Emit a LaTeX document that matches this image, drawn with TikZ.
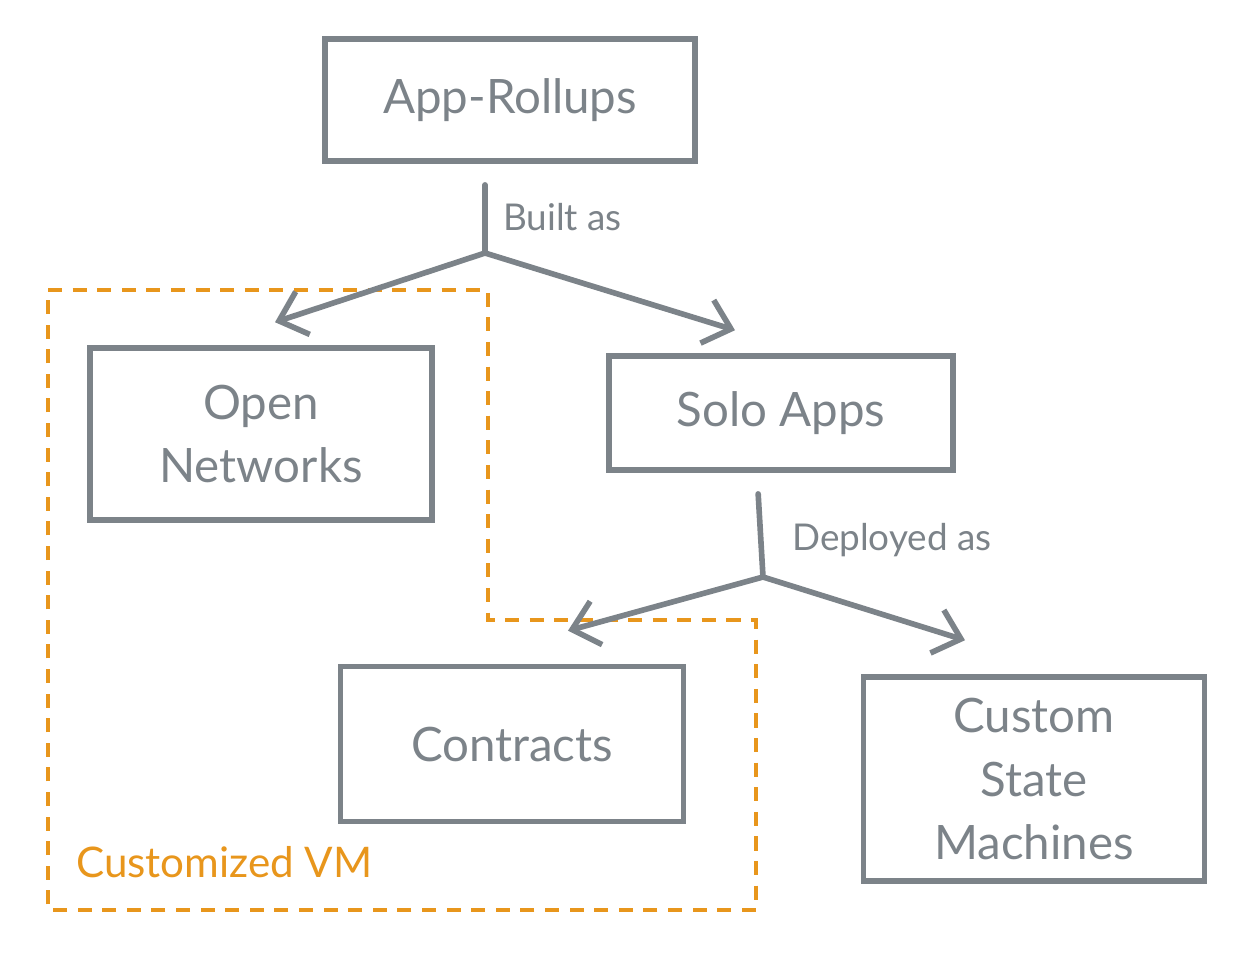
\documentclass[tikz,border=0pt]{standalone}
\usepackage{fontspec}
\setmainfont{Lato}
\usetikzlibrary{arrows.meta}
\definecolor{boxgray}{HTML}{7C8389}
\definecolor{vmorange}{HTML}{E8961C}
\tikzstyle{appbox} = [draw=boxgray, line width=3.2pt, text=boxgray,
    rectangle, align=center, font=\fontsize{27}{36}\selectfont]
\tikzstyle{edgelabel} = [text=boxgray, anchor=west, font=\fontsize{21}{25}\selectfont]
\tikzstyle{flow} = [draw=boxgray, line width=3.2pt, line cap=round, line join=round]
\tikzstyle{branch} = [flow, -{Straight Barb[length=0.5cm, width=0.9cm]}]
\tikzstyle{vmregion} = [draw=vmorange, line width=2pt, dash pattern=on 8pt off 6pt]

\begin{document}
\begin{tikzpicture}[x=0.02cm, y=-0.02cm]
\useasboundingbox (0,0) rectangle (1244,954);

% customized VM region
\draw[vmregion] (48,290) -- (488,290) -- (488,620) -- (756,620) -- (756,910) -- (48,910) -- cycle;
\node[text=vmorange, anchor=west, font=\fontsize{24}{30}\selectfont] (vm) at (70,862) {Customized VM};

% boxes
\node[appbox, minimum width=7.4cm, minimum height=2.44cm] (rollups) at (510,100) {App-Rollups};
\node[appbox, minimum width=6.84cm, minimum height=3.44cm] (open) at (261,434) {Open\\Networks};
\node[appbox, minimum width=6.88cm, minimum height=2.28cm] (solo) at (781,413) {Solo Apps};
\node[appbox, minimum width=6.86cm, minimum height=3.1cm] (contracts) at (512,744) {Contracts};
\node[appbox, minimum width=6.82cm, minimum height=4.08cm] (custom) at (1034,779) {Custom\\State\\Machines};

% built as
\coordinate (split1) at (485,253);
\draw[flow] ([yshift=-12pt]rollups.south -| split1) -- (split1);
\draw[branch] (split1) -- ([xshift=0.28cm, yshift=0.46cm]open.north);
\draw[branch] (split1) -- ([xshift=-0.92cm, yshift=0.46cm]solo.north);
\node[edgelabel] (built) at (497,217) {Built as};

% deployed as
\coordinate (split2) at (763,577);
\draw[flow] ([xshift=-13pt, yshift=-12pt]solo.south) -- (split2);
\draw[branch] (split2) -- ([xshift=1.12cm, yshift=0.66cm]contracts.north);
\draw[branch] (split2) -- ([xshift=-1.38cm, yshift=0.68cm]custom.north);
\node[edgelabel] (deployed) at (786,540) {Deployed as};
\end{tikzpicture}
\end{document}
